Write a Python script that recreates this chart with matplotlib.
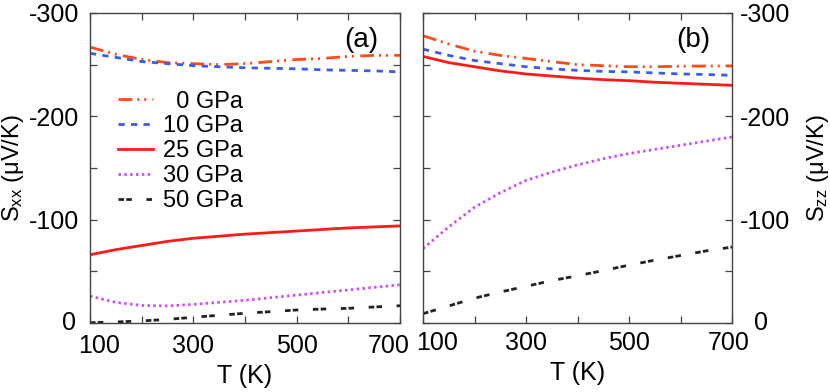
import matplotlib
matplotlib.use("Agg")
import matplotlib.pyplot as plt
import matplotlib.transforms as mtransforms
from matplotlib.ticker import MultipleLocator, FixedLocator, FuncFormatter

plt.rcParams['font.family'] = ['Liberation Sans', 'DejaVu Sans']
plt.rcParams['mathtext.fontset'] = 'custom'
plt.rcParams['mathtext.rm'] = 'Liberation Sans'
plt.rcParams['mathtext.it'] = 'Liberation Sans:italic'
plt.rcParams['axes.unicode_minus'] = False
plt.rcParams['lines.scale_dashes'] = False

T = [100, 150, 200, 250, 300, 350, 400, 450, 500, 550, 600, 650, 700]
x_major = [100, 300, 500, 700]
x_minor = [200, 400, 600]

labels = ["  0 GPa", "10 GPa", "25 GPa", "30 GPa", "50 GPa"]
colors = ["#ff4a1c", "#3a5ce6", "#ff1a1a", "#cc4ff0", "#222222"]

# Panel (a) Sxx (muV/K)
sxx_0 = [-267, -260, -255, -252, -251, -250, -251, -253, -255, -256, -258, -259, -259]
sxx_10 = [-261, -257, -253, -251, -249, -248, -247, -246.5, -246, -245, -244.5, -244, -243]
sxx_25 = [-66, -71, -75, -79, -82, -84, -86, -87.5, -89, -90.5, -92, -93, -94]
sxx_30 = [-26, -20, -17, -16.5, -18, -20, -22, -24.5, -27, -29.5, -32, -34.5, -37]
sxx_50 = [-0.3, -1, -2, -3.5, -5.5, -7.5, -9.4, -11, -12.6, -13.5, -14.2, -15.5, -16.7]

# Panel (b) Szz (muV/K)
szz_0 = [-278, -270, -263, -259, -256, -253, -250, -249, -248, -248, -248.5, -248.7, -248.7]
szz_10 = [-265, -259, -254, -251, -248, -246, -244.5, -243.5, -243, -242, -241, -240.5, -239.7]
szz_25 = [-258, -252, -248, -244, -241, -239, -237, -235.5, -234.5, -233, -232, -231, -230]
szz_30 = [-72, -93, -112, -126, -138, -146, -153, -159, -164, -168, -172, -176, -180]
szz_50 = [-9, -16.5, -24, -30, -35.5, -41, -45.7, -50.7, -56, -60.8, -65.3, -69.8, -73.5]

styles = [
    dict(dashes=(10, 3.5, 1.5, 3.5, 1.5, 4.5)),
    dict(dashes=(4.5, 4.5)),
    dict(linestyle='-'),
    dict(dashes=(1.8, 2.4)),
    dict(dashes=(4.0, 1.6, 4.0, 10.5)),
]

fig = plt.figure(figsize=(8.3, 3.92), dpi=100)
axA = fig.add_axes([90/830, 69/392, 310/830, 310/392])
axB = fig.add_axes([423/830, 69/392, 309/830, 310/392])

fmt = FuncFormatter(lambda v, p: "%d" % round(v))

for ax, series, tag in [(axA, [sxx_0, sxx_10, sxx_25, sxx_30, sxx_50], "(a)"),
                        (axB, [szz_0, szz_10, szz_25, szz_30, szz_50], "(b)")]:
    for ys, c, st, lab in zip(series, colors, styles, labels):
        ax.plot(T, ys, color=c, lw=2.0, label=lab, **st)
    ax.set_xlim(100, 700)
    ax.set_ylim(0, -300)
    ax.xaxis.set_major_locator(FixedLocator(x_major))
    ax.xaxis.set_minor_locator(FixedLocator(x_minor))
    ax.yaxis.set_major_locator(MultipleLocator(100))
    ax.yaxis.set_minor_locator(MultipleLocator(50))
    ax.yaxis.set_major_formatter(fmt)
    ax.xaxis.set_major_formatter(fmt)
    ax.tick_params(which='both', direction='in', top=True, bottom=True, left=True, right=True,
                   length=5, width=0.9, color='#444444', labelsize=18, pad=8)
    for s in ax.spines.values():
        s.set_color('#444444')
        s.set_linewidth(1.0)
    ax.set_xlabel("T (K)", fontsize=18, labelpad=4)
    ax.text(0.93, 0.955, tag, transform=ax.transAxes, ha='right', va='top', fontsize=20)

axA.set_ylabel(r"S$_{\mathrm{xx}}$ (μV/K)", fontsize=17, labelpad=2)
axB.yaxis.tick_right()
axB.tick_params(which='both', left=True, right=True, labelleft=False, labelright=True, pad=6)
axB.yaxis.set_label_position('right')
axB.set_ylabel(r"S$_{\mathrm{zz}}$ (μV/K)", fontsize=17, labelpad=10)

leg = axA.legend(loc='upper left', bbox_to_anchor=(0.06, 0.78), frameon=False, fontsize=17,
                 handlelength=1.5, handletextpad=0.4, labelspacing=0.12, borderaxespad=0)

fig.canvas.draw()

# shift some tick labels as in the reference
def shift(lab, dx, dy=0):
    lab.set_transform(lab.get_transform() + mtransforms.ScaledTranslation(dx/100, dy/100, fig.dpi_scale_trans))

for ax, shifts in [(axA, {"100": 9, "700": -11}), (axB, {"100": 14, "700": -3})]:
    for lab in ax.get_xticklabels():
        if lab.get_text() in shifts:
            shift(lab, shifts[lab.get_text()])

for lab in axB.get_yticklabels():
    if lab.get_text() == "0":
        shift(lab, 14, 3)
for lab in axA.get_yticklabels():
    if lab.get_text() == "0":
        shift(lab, -3, 3)

fig.savefig("out.png", dpi=100)
